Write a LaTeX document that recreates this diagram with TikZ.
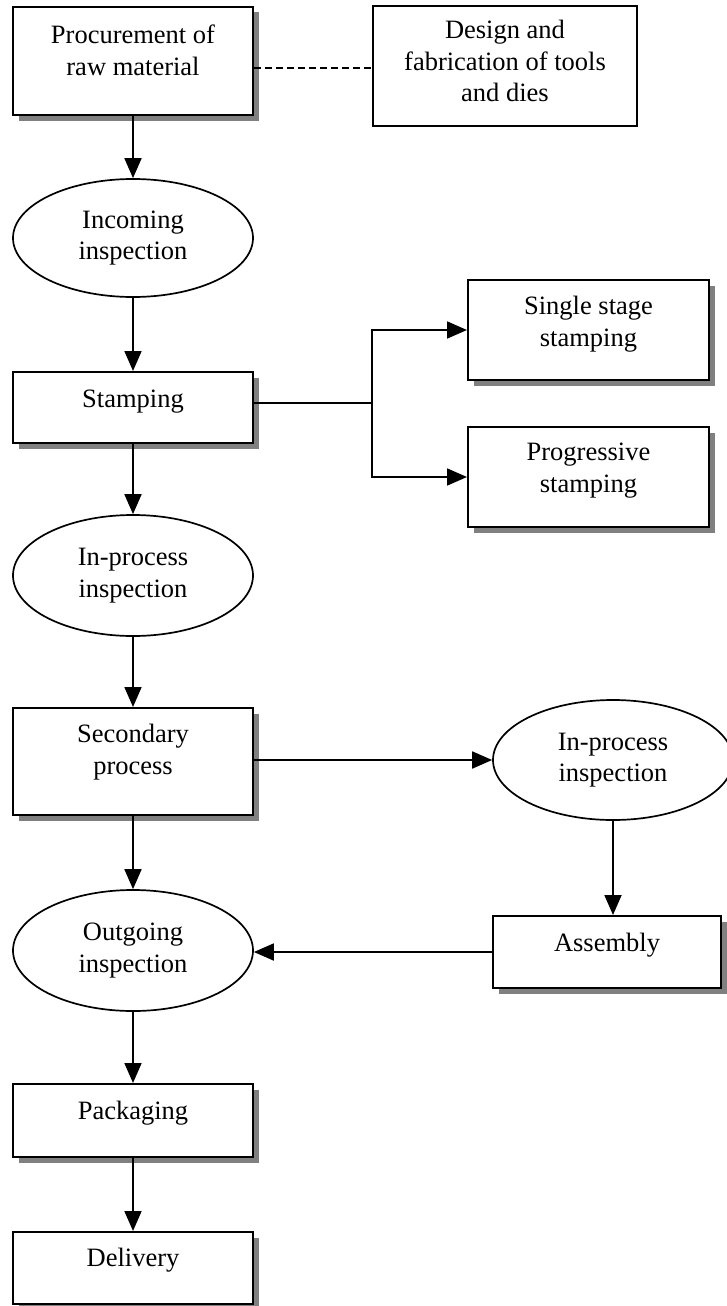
\documentclass[tikz,border=0pt]{standalone}
\usepackage{fontspec}
\setmainfont{Liberation Serif}
\usetikzlibrary{arrows.meta,shapes.geometric,shadows}
\begin{document}
\begin{tikzpicture}[x=1pt,y=-1pt,
  every node/.style={font=\fontsize{26.5pt}{31.5pt}\selectfont, inner sep=0pt},
  procbox/.style={draw, rectangle, line width=2pt, fill=white},
  shadowed/.style={drop shadow={shadow xshift=5.5pt, shadow yshift=-5.5pt, opacity=1, fill=black!50}},
  checkoval/.style={draw, ellipse, line width=1.7pt, fill=white, minimum width=240pt, align=center},
  boxtext/.style={align=center, anchor=north},
  link/.style={line width=1.8pt},
  flow/.style={line width=1.8pt, -{Triangle[length=20pt,width=17pt]}},
]
\useasboundingbox (0,0) rectangle (727,1306);

% main column
\node[procbox, shadowed, minimum width=240pt, minimum height=108pt] (proc) at (133,61) {};
\node[boxtext] (proc-t) at ([yshift=-19pt]proc.north) {Procurement of\\raw material};

\node[procbox, minimum width=264pt, minimum height=120pt] (design) at (505,66) {};
\node[boxtext] (design-t) at ([yshift=-15pt]design.north) {Design and\\fabrication of tools\\and dies};

\node[checkoval, minimum height=118pt] (incoming) at (133,238) {Incoming\\inspection};

\node[procbox, shadowed, minimum width=240pt, minimum height=71pt] (stamp) at (133,407.5) {};
\node[boxtext] (stamp-t) at ([yshift=-19pt]stamp.north) {Stamping};

\node[procbox, shadowed, minimum width=241pt, minimum height=100pt] (single) at (588.5,330) {};
\node[boxtext] (single-t) at ([yshift=-17pt]single.north) {Single stage\\stamping};

\node[procbox, shadowed, minimum width=241pt, minimum height=100pt] (prog) at (588.5,477) {};
\node[boxtext] (prog-t) at ([yshift=-17pt]prog.north) {Progressive\\stamping};

\node[checkoval, minimum height=121pt] (inproc1) at (133,575.5) {In-process\\inspection};

\node[procbox, shadowed, minimum width=240pt, minimum height=107pt] (second) at (133,761.5) {};
\node[boxtext] (second-t) at ([yshift=-17pt]second.north) {Secondary\\process};

\node[checkoval, minimum height=120pt] (inproc2) at (613,760) {In-process\\inspection};

\node[procbox, shadowed, minimum width=228pt, minimum height=72pt] (assembly) at (607,952) {};
\node[boxtext] (assembly-t) at ([yshift=-18pt]assembly.north) {Assembly};

\node[checkoval, minimum height=121pt] (outgoing) at (133,950.5) {Outgoing\\inspection};

\node[procbox, shadowed, minimum width=240pt, minimum height=73pt] (pack) at (133,1120.5) {};
\node[boxtext] (pack-t) at ([yshift=-18pt]pack.north) {Packaging};

\node[procbox, shadowed, minimum width=240pt, minimum height=72pt] (deliv) at (133,1268) {};
\node[boxtext] (deliv-t) at ([yshift=-17pt]deliv.north) {Delivery};

% connectors
\coordinate (dash-end) at ([yshift=-2pt]design.west);
\draw[link, dash pattern=on 7pt off 4pt] (proc.east |- dash-end) -- (dash-end);
\draw[flow] (proc) -- (incoming);
\draw[flow] (incoming) -- (stamp);

\coordinate (fork) at (372,403);
\draw[link] (stamp.east |- fork) -- (fork);
\draw[flow] (fork) |- (single);
\draw[flow] (fork) |- (prog);

\draw[flow] (stamp) -- (inproc1);
\draw[flow] (inproc1) -- (second);
\draw[flow] (second.east |- inproc2) -- (inproc2);
\draw[flow] (inproc2.south) -- (inproc2.south |- assembly.north);
\draw[flow] (assembly.west) -- (assembly.west -| outgoing.east);
\draw[flow] (second) -- (outgoing);
\draw[flow] (outgoing) -- (pack);
\draw[flow] (pack) -- (deliv);
\end{tikzpicture}
\end{document}
